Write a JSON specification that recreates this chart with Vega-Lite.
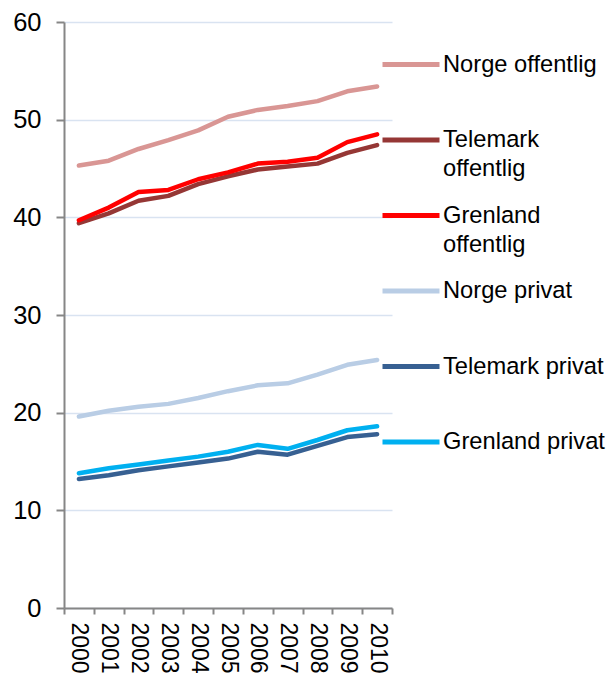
{
  "$schema": "https://vega.github.io/schema/vega-lite/v6.json",
  "width": 328,
  "height": 586,
  "autosize": {"type": "none"},
  "padding": {"left": 64, "top": 22, "right": 218, "bottom": 65},
  "background": "white",
  "config": {
    "view": {"stroke": null},
    "font": "Liberation Sans",
    "axis": {"labelFont": "Liberation Sans", "labelFontSize": 23, "labelColor": "#000000", "domainColor": "#868686", "tickColor": "#868686", "domainWidth": 2, "tickWidth": 2, "gridColor": "#D9E3F1", "gridWidth": 1.5}
  },
  "data": {
    "values": [
      {"year": "2000", "series": "Norge offentlig", "value": 45.3},
      {"year": "2001", "series": "Norge offentlig", "value": 45.8},
      {"year": "2002", "series": "Norge offentlig", "value": 47.0},
      {"year": "2003", "series": "Norge offentlig", "value": 47.9},
      {"year": "2004", "series": "Norge offentlig", "value": 48.9},
      {"year": "2005", "series": "Norge offentlig", "value": 50.3},
      {"year": "2006", "series": "Norge offentlig", "value": 51.0},
      {"year": "2007", "series": "Norge offentlig", "value": 51.4},
      {"year": "2008", "series": "Norge offentlig", "value": 51.9},
      {"year": "2009", "series": "Norge offentlig", "value": 52.9},
      {"year": "2010", "series": "Norge offentlig", "value": 53.4},
      {"year": "2000", "series": "Telemark offentlig", "value": 39.4},
      {"year": "2001", "series": "Telemark offentlig", "value": 40.4},
      {"year": "2002", "series": "Telemark offentlig", "value": 41.7},
      {"year": "2003", "series": "Telemark offentlig", "value": 42.2},
      {"year": "2004", "series": "Telemark offentlig", "value": 43.4},
      {"year": "2005", "series": "Telemark offentlig", "value": 44.2},
      {"year": "2006", "series": "Telemark offentlig", "value": 44.9},
      {"year": "2007", "series": "Telemark offentlig", "value": 45.2},
      {"year": "2008", "series": "Telemark offentlig", "value": 45.5},
      {"year": "2009", "series": "Telemark offentlig", "value": 46.6},
      {"year": "2010", "series": "Telemark offentlig", "value": 47.4},
      {"year": "2000", "series": "Grenland offentlig", "value": 39.7},
      {"year": "2001", "series": "Grenland offentlig", "value": 41.0},
      {"year": "2002", "series": "Grenland offentlig", "value": 42.6},
      {"year": "2003", "series": "Grenland offentlig", "value": 42.8},
      {"year": "2004", "series": "Grenland offentlig", "value": 43.9},
      {"year": "2005", "series": "Grenland offentlig", "value": 44.6},
      {"year": "2006", "series": "Grenland offentlig", "value": 45.5},
      {"year": "2007", "series": "Grenland offentlig", "value": 45.7},
      {"year": "2008", "series": "Grenland offentlig", "value": 46.1},
      {"year": "2009", "series": "Grenland offentlig", "value": 47.7},
      {"year": "2010", "series": "Grenland offentlig", "value": 48.5},
      {"year": "2000", "series": "Norge privat", "value": 19.6},
      {"year": "2001", "series": "Norge privat", "value": 20.2},
      {"year": "2002", "series": "Norge privat", "value": 20.6},
      {"year": "2003", "series": "Norge privat", "value": 20.9},
      {"year": "2004", "series": "Norge privat", "value": 21.5},
      {"year": "2005", "series": "Norge privat", "value": 22.2},
      {"year": "2006", "series": "Norge privat", "value": 22.8},
      {"year": "2007", "series": "Norge privat", "value": 23.0},
      {"year": "2008", "series": "Norge privat", "value": 23.9},
      {"year": "2009", "series": "Norge privat", "value": 24.9},
      {"year": "2010", "series": "Norge privat", "value": 25.4},
      {"year": "2000", "series": "Telemark privat", "value": 13.2},
      {"year": "2001", "series": "Telemark privat", "value": 13.6},
      {"year": "2002", "series": "Telemark privat", "value": 14.1},
      {"year": "2003", "series": "Telemark privat", "value": 14.5},
      {"year": "2004", "series": "Telemark privat", "value": 14.9},
      {"year": "2005", "series": "Telemark privat", "value": 15.3},
      {"year": "2006", "series": "Telemark privat", "value": 16.0},
      {"year": "2007", "series": "Telemark privat", "value": 15.7},
      {"year": "2008", "series": "Telemark privat", "value": 16.6},
      {"year": "2009", "series": "Telemark privat", "value": 17.5},
      {"year": "2010", "series": "Telemark privat", "value": 17.8},
      {"year": "2000", "series": "Grenland privat", "value": 13.8},
      {"year": "2001", "series": "Grenland privat", "value": 14.3},
      {"year": "2002", "series": "Grenland privat", "value": 14.7},
      {"year": "2003", "series": "Grenland privat", "value": 15.1},
      {"year": "2004", "series": "Grenland privat", "value": 15.5},
      {"year": "2005", "series": "Grenland privat", "value": 16.0},
      {"year": "2006", "series": "Grenland privat", "value": 16.7},
      {"year": "2007", "series": "Grenland privat", "value": 16.3},
      {"year": "2008", "series": "Grenland privat", "value": 17.2},
      {"year": "2009", "series": "Grenland privat", "value": 18.2},
      {"year": "2010", "series": "Grenland privat", "value": 18.6}
    ]
  },
  "mark": {"type": "line", "strokeWidth": 4.5, "strokeCap": "round", "strokeJoin": "round"},
  "encoding": {
    "x": {
      "field": "year", "type": "ordinal", "title": null, "bandPosition": 0.5,
      "scale": {"type": "band", "paddingInner": 0, "paddingOuter": 0},
      "axis": {"labelAngle": 90, "labelAlign": "left", "labelBaseline": "middle", "tickSize": 6, "labelPadding": 8, "tickBand": "extent", "grid": false}
    },
    "y": {
      "field": "value", "type": "quantitative", "title": null,
      "scale": {"domain": [0, 60], "nice": false},
      "axis": {"values": [0, 10, 20, 30, 40, 50, 60], "tickSize": 8, "labelPadding": 15, "labelFontSize": 25.5, "grid": true}
    },
    "color": {
      "field": "series", "type": "nominal",
      "scale": {
        "domain": ["Norge offentlig", "Telemark offentlig", "Grenland offentlig", "Norge privat", "Telemark privat", "Grenland privat"],
        "range": ["#D99694", "#953735", "#FF0000", "#B9CDE5", "#376092", "#00B0F0"]
      },
      "legend": {
        "title": null, "orient": "none", "legendX": 316, "legendY": 11.5, "padding": 0,
        "symbolType": "stroke", "symbolSize": 3249, "symbolStrokeWidth": 5,
        "labelFont": "Liberation Sans", "labelFontSize": 23.7, "labelColor": "#000000", "labelLimit": 400,
        "labelOffset": 1, "rowPadding": 3.5,
        "encode": {"labels": {"update": {"lineHeight": {"value": 29}}}},
        "labelExpr": "datum.label == 'Telemark offentlig' ? ['Telemark', 'offentlig'] : datum.label == 'Grenland offentlig' ? ['Grenland', 'offentlig'] : [datum.label, '']"
      }
    }
  }
}
